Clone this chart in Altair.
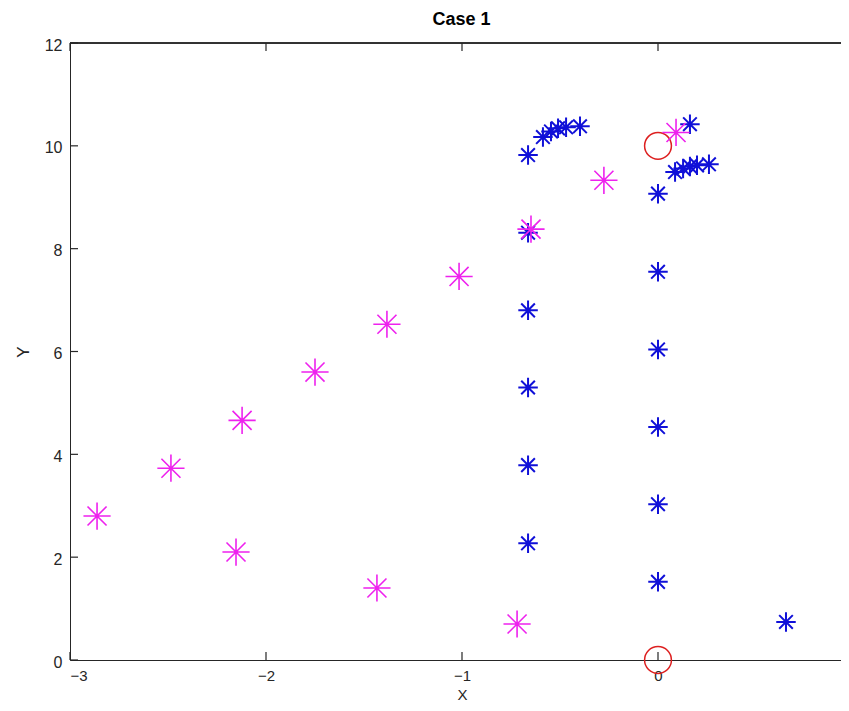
import altair as alt
import pandas as pd

# Magenta series (large asterisks)
mag_x = [-2.862, -2.485, -2.122, -1.750, -1.383, -1.015, -0.648, -0.276, 0.092,
         -2.153, -1.434, -0.719]
mag_y = [2.80, 3.73, 4.66, 5.60, 6.53, 7.46, 8.38, 9.33, 10.26,
         2.10, 1.40, 0.70]

# Blue series (small asterisks)
blue_x = [-0.663, -0.663, -0.663, -0.663, -0.663, -0.663,
          -0.587, -0.546, -0.510, -0.469, -0.398,
          0.0, 0.0, 0.0, 0.0, 0.0, 0.0,
          0.087, 0.128, 0.163, 0.199, 0.260,
          0.163, 0.653]
blue_y = [2.27, 3.79, 5.30, 6.80, 8.31, 9.82,
          10.17, 10.28, 10.34, 10.36, 10.38,
          1.52, 3.03, 4.53, 6.04, 7.55, 9.07,
          9.49, 9.56, 9.60, 9.62, 9.64,
          10.42, 0.74]

# Red circles
red_x = [0.0, 0.0]
red_y = [10.0, 0.0]

x_ticks = [-3, -2, -1, 0]
y_ticks = [0, 2, 4, 6, 8, 10, 12]

W = 771          # visible plot width (the reference is cropped on the right)
FULL_W = 784     # full axis length for x in [-3, 1]
H = 617
X_DOMAIN = [-3, 1]
Y_DOMAIN = [0, 12]

FONT = "Liberation Sans"
TXT = "#262626"
ASTER = "M-1,0L1,0M0,-1L0,1M-0.7,-0.7L0.7,0.7M-0.7,0.7L0.7,-0.7"

mag = pd.DataFrame({"x": mag_x, "y": mag_y})
blue = pd.DataFrame({"x": blue_x, "y": blue_y})
red = pd.DataFrame({"x": red_x, "y": red_y})
xt = pd.DataFrame({"t": x_ticks})
yt = pd.DataFrame({"t": y_ticks})

xscale = alt.Scale(domain=X_DOMAIN, range=[0, FULL_W], nice=False, zero=False)
yscale = alt.Scale(domain=Y_DOMAIN, nice=False, zero=False)

xaxis = alt.Axis(values=x_ticks, format="d", ticks=False, grid=False,
                 domainColor=TXT, domainWidth=1, labelColor=TXT,
                 labelFont=FONT, labelFontSize=15, labelPadding=8,
                 title="X", titleFont=FONT, titleFontSize=15,
                 titleFontWeight="normal", titleColor=TXT,
                 titleBaseline="alphabetic", titleY=39)
yaxis = alt.Axis(values=y_ticks, format="d", ticks=False, grid=False,
                 domainColor=TXT, domainWidth=1, labelColor=TXT,
                 labelFont=FONT, labelFontSize=16, labelPadding=8, labelOffset=2,
                 title="Y", titleFont=FONT, titleFontSize=17,
                 titleFontWeight="normal", titleColor=TXT, titlePadding=12)

base_x = alt.X("x:Q", scale=xscale, axis=xaxis)
base_y = alt.Y("y:Q", scale=yscale, axis=yaxis)

red_layer = alt.Chart(red).mark_point(
    shape="circle", filled=False, color="#dd2020", strokeWidth=1.5, size=720, opacity=1
).encode(x=base_x, y=base_y)

blue_layer = alt.Chart(blue).mark_point(
    shape=ASTER, filled=False, color="#1010d8", strokeWidth=2, size=380, opacity=1
).encode(x=alt.X("x:Q", scale=xscale), y=alt.Y("y:Q", scale=yscale))

mag_layer = alt.Chart(mag).mark_point(
    shape=ASTER, filled=False, color="#ee22ee", strokeWidth=1.6, size=740, opacity=1
).encode(x=alt.X("x:Q", scale=xscale), y=alt.Y("y:Q", scale=yscale))

# top border
top_line = alt.Chart(xt).mark_rule(color=TXT, strokeWidth=1).encode(
    x=alt.value(0), x2=alt.value(W), y=alt.value(0))
# inward ticks
bot_ticks = alt.Chart(xt).mark_rule(color=TXT, strokeWidth=1.2).encode(
    x=alt.X("t:Q", scale=xscale), y=alt.value(H), y2=alt.value(H - 8))
top_ticks = alt.Chart(xt).mark_rule(color=TXT, strokeWidth=1.2).encode(
    x=alt.X("t:Q", scale=xscale), y=alt.value(0), y2=alt.value(8))
left_ticks = alt.Chart(yt).mark_rule(color=TXT, strokeWidth=1.2).encode(
    y=alt.Y("t:Q", scale=yscale), x=alt.value(0), x2=alt.value(8))

chart = alt.layer(
    top_line, bot_ticks, top_ticks, left_ticks,
    red_layer, blue_layer, mag_layer
).properties(
    width=W, height=H,
    title=alt.TitleParams("Case 1", font=FONT, fontSize=18, fontWeight="bold",
                          color="#000000", anchor="middle", dx=6, offset=8),
    autosize=alt.AutoSizeParams(type="none"),
    padding={"left": 62, "top": 35, "right": 0, "bottom": 43},
).configure_view(stroke=None).configure(background="white")

chart.save("out.html", embed_options={"renderer": "svg", "actions": False})
